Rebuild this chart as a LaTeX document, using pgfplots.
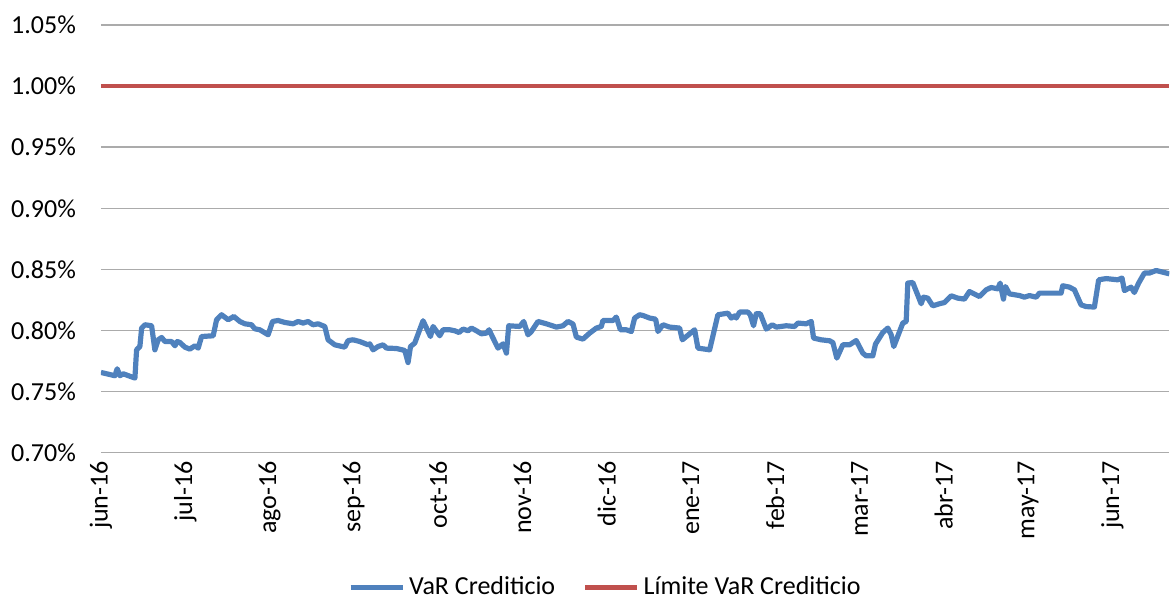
\documentclass[border=0pt]{standalone}
\usepackage{fontspec}
\setmainfont{Carlito}
\usepackage{pgfplots}
\pgfplotsset{compat=1.18}
\definecolor{varblue}{HTML}{4F81BD}
\definecolor{limred}{HTML}{C0504D}
\definecolor{gridgray}{HTML}{ABABAB}

% x = months since jun-16, y = VaR in %
\pgfplotstableread{
x y
0.00 0.7657
0.166 0.7630
0.193 0.7687
0.225 0.7630
0.264 0.7646
0.403 0.7611
0.423 0.7842
0.462 0.7869
0.483 0.8020
0.522 0.8047
0.601 0.8039
0.640 0.7842
0.679 0.7924
0.720 0.7943
0.759 0.7910
0.838 0.7910
0.878 0.7875
0.905 0.7910
0.937 0.7902
0.996 0.7864
1.055 0.7848
1.115 0.7875
1.154 0.7856
1.194 0.7951
1.332 0.7957
1.372 0.8088
1.431 0.8129
1.510 0.8088
1.577 0.8115
1.648 0.8074
1.708 0.8055
1.787 0.8047
1.826 0.8014
1.885 0.8006
1.984 0.7965
2.036 0.8074
2.102 0.8082
2.182 0.8066
2.280 0.8055
2.340 0.8074
2.399 0.8061
2.458 0.8074
2.517 0.8047
2.577 0.8055
2.656 0.8033
2.695 0.7924
2.775 0.7883
2.893 0.7864
2.933 0.7918
2.992 0.7924
3.071 0.7910
3.170 0.7883
3.190 0.7891
3.229 0.7842
3.288 0.7869
3.348 0.7883
3.388 0.7856
3.506 0.7853
3.605 0.7837
3.644 0.7738
3.673 0.7869
3.723 0.7897
3.822 0.8080
3.910 0.7951
3.941 0.8033
4.020 0.7957
4.059 0.8006
4.139 0.8006
4.198 0.7998
4.249 0.7984
4.296 0.8012
4.356 0.7998
4.396 0.8020
4.455 0.7998
4.514 0.7973
4.574 0.7979
4.605 0.8006
4.652 0.7938
4.711 0.7856
4.771 0.7891
4.811 0.7815
4.838 0.8039
4.969 0.8033
5.016 0.8074
5.067 0.7965
5.107 0.7992
5.186 0.8074
5.285 0.8055
5.404 0.8028
5.482 0.8039
5.541 0.8074
5.601 0.8053
5.641 0.7946
5.719 0.7930
5.799 0.7979
5.878 0.8020
5.937 0.8033
5.956 0.8082
6.075 0.8082
6.115 0.8110
6.163 0.8006
6.234 0.8006
6.293 0.7992
6.332 0.8102
6.391 0.8129
6.431 0.8123
6.510 0.8102
6.581 0.8093
6.609 0.7992
6.668 0.8047
6.748 0.8028
6.866 0.8020
6.898 0.7924
7.044 0.8006
7.083 0.7856
7.222 0.7842
7.320 0.8129
7.439 0.8142
7.479 0.8102
7.518 0.8120
7.538 0.8102
7.578 0.8151
7.676 0.8151
7.704 0.8129
7.743 0.8039
7.775 0.8137
7.823 0.8137
7.894 0.8012
7.965 0.8047
8.013 0.8028
8.131 0.8039
8.230 0.8033
8.269 0.8061
8.368 0.8055
8.428 0.8074
8.455 0.7938
8.546 0.7924
8.645 0.7916
8.684 0.7902
8.731 0.7774
8.802 0.7883
8.882 0.7883
8.961 0.7918
9.039 0.7815
9.079 0.7793
9.158 0.7793
9.190 0.7889
9.277 0.7984
9.336 0.8020
9.376 0.7965
9.407 0.7869
9.514 0.8061
9.554 0.8074
9.573 0.8388
9.632 0.8393
9.732 0.8219
9.759 0.8273
9.810 0.8265
9.869 0.8202
9.949 0.8219
10.008 0.8229
10.088 0.8284
10.166 0.8265
10.245 0.8257
10.305 0.8319
10.423 0.8278
10.503 0.8333
10.562 0.8352
10.640 0.8341
10.669 0.8388
10.708 0.8257
10.732 0.8360
10.779 0.8300
10.898 0.8286
10.957 0.8273
11.016 0.8286
11.096 0.8273
11.135 0.8306
11.392 0.8306
11.411 0.8366
11.491 0.8355
11.550 0.8333
11.629 0.8210
11.689 0.8196
11.787 0.8192
11.838 0.8415
11.926 0.8425
12.063 0.8415
12.115 0.8429
12.143 0.8327
12.222 0.8355
12.261 0.8311
12.312 0.8388
12.380 0.8470
12.439 0.8470
12.519 0.8491
12.676 0.8464
}\varcred

\begin{document}
\begin{tikzpicture}
\begin{axis}[
    scale only axis,
    width=534.5pt,
    height=214pt,
    xmin=0, xmax=12.676,
    ymin=0.70, ymax=1.05,
    axis line style={draw=none},
    major tick length=0pt,
    ytick={0.70,0.75,0.80,0.85,0.90,0.95,1.00,1.05},
    yticklabels={0.70\%,0.75\%,0.80\%,0.85\%,0.90\%,0.95\%,1.00\%,1.05\%},
    xtick={0,1,2,3,4,5,6,7,8,9,10,11,12},
    xticklabels={jun-16,jul-16,ago-16,sep-16,oct-16,nov-16,dic-16,ene-17,feb-17,mar-17,abr-17,may-17,jun-17},
    ymajorgrids,
    grid style={gridgray, line width=0.7pt},
    tick label style={font=\fontsize{13}{15}\selectfont},
    yticklabel style={xshift=-9pt},
    xticklabel style={rotate=90, anchor=east, inner sep=4pt},
    legend style={at={(0.473,-0.315)}, anchor=center, draw=none,
        font=\fontsize{13}{15}\selectfont, legend columns=2,
        /tikz/every even column/.append style={column sep=12pt}},
    legend image code/.code={\draw[#1] (0pt,0pt) -- (26pt,0pt);},
]
\addplot[varblue, line width=2.6pt, line join=round] table[x=x, y=y] {\varcred};
\addplot[limred, line width=2.3pt] coordinates {(0,1.00) (12.676,1.00)};
\legend{VaR Crediticio, Límite VaR Crediticio}
\end{axis}
\path (current axis.south west) ++(-50.5pt,-71.5pt) coordinate (bl)
      (current axis.north east) ++(0pt,12.5pt) coordinate (tr);
\path (bl) rectangle (tr);
\end{tikzpicture}
\end{document}
